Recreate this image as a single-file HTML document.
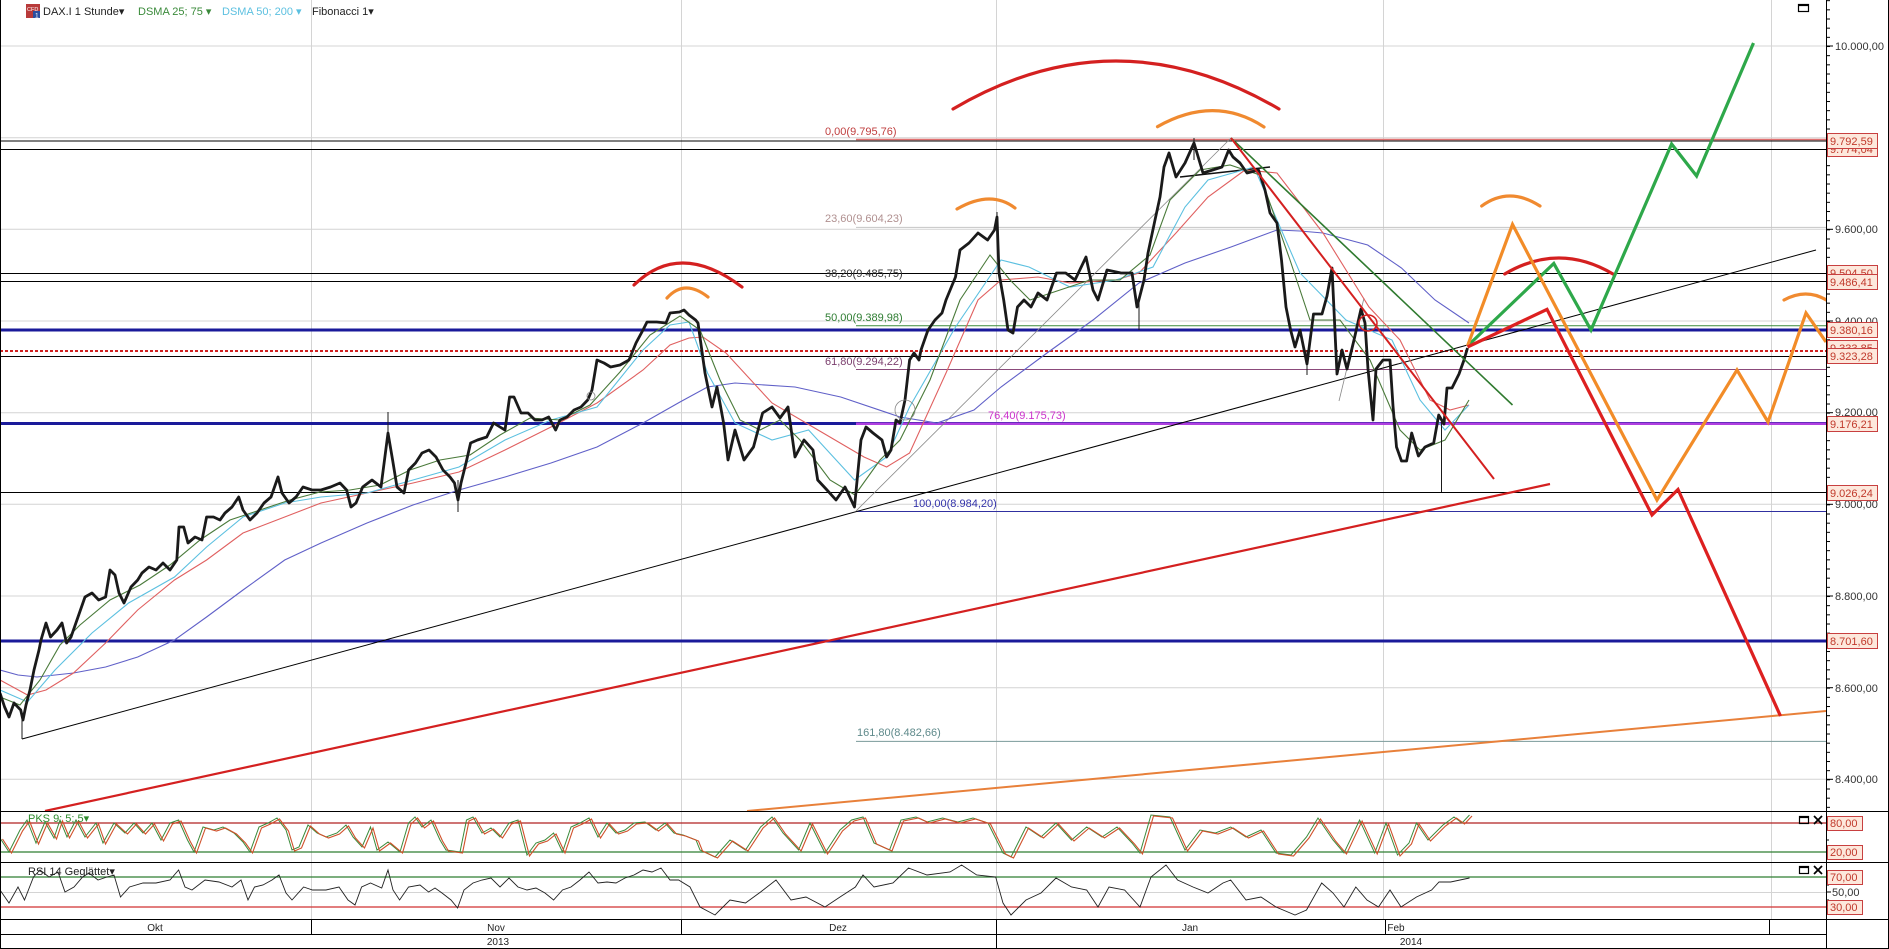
<!DOCTYPE html>
<html><head><meta charset="utf-8"><style>
html,body{margin:0;padding:0;background:#fff;}
svg{display:block;font-family:"Liberation Sans",Arial,sans-serif;}
</style></head><body>
<svg width="1889" height="949" viewBox="0 0 1889 949" xmlns="http://www.w3.org/2000/svg">
<defs>
<clipPath id="main"><rect x="0" y="0" width="1826" height="811"/></clipPath>
<clipPath id="pks"><rect x="0" y="812" width="1826" height="50"/></clipPath>
<clipPath id="rsi"><rect x="0" y="863" width="1826" height="56"/></clipPath>
<pattern id="tk" patternUnits="userSpaceOnUse" x="0" y="0.17" width="10" height="9.1667"><rect x="0" y="0" width="10" height="1" fill="#000"/></pattern>
<polyline id="pk" fill="none" points="0,838 9,852 20,830 27,820 36,843 45,822 54,838 60,820 67,837 76,820 85,837 96,823 103,843 114,823 125,833 134,823 143,833 152,823 161,840 170,823 178.6,820 187.5,840 194,852 203,827 214,830 223,827 234,833 243,842 250,852 259,827 268,823 277,818 286,830 292,850 299,847 308,825 317,833 326,837 337,833 346,825 353,837 362,847 370.5,827 377,850 388,842 400,852 408.5,823 415,817 422,827 431,820 440,840 446,850 460,852 466.5,820 473,817 482,833 491,828 500,837 509,823 518,820 527,855 536,843 545,840 553.6,833 562.5,852 571,827 580,823 589,818 598,837 607,823 616,833 625,830 634,823 645,822 656,830 665,823 674,833 683,835 696,840 700,850 715,857 730,840 745.5,850 760.6,827 772,817 783,833 798.6,850 810,823 825,853 840,830 851.6,820 863,817 874,843 889.5,850 901,820 916,817 927,822 942.6,818 957.8,822 973,818 988,823 1003,853 1011,857 1026,827 1041,837 1056,823 1071.5,840 1086.7,827 1102,837 1117,827 1132,843 1140,853 1151,815 1170,817 1185,850 1200,830 1215.5,833 1230.7,827 1246,837 1261,830 1276,853 1291,855 1306.5,837 1318,818 1333,840 1344,853 1359.6,820 1374.7,853 1386,823 1397.5,855 1409,843 1416.5,823 1428,840 1443,825 1454,817 1462,823 1469.5,815"/>
</defs>
<rect width="1889" height="949" fill="#fff"/>

<!-- grid -->
<g stroke="#d4d4d4" stroke-width="1">
<line x1="311.5" y1="0" x2="311.5" y2="919"/>
<line x1="681.5" y1="0" x2="681.5" y2="919"/>
<line x1="996.5" y1="0" x2="996.5" y2="919"/>
<line x1="1383.5" y1="0" x2="1383.5" y2="919"/>
<line x1="1771.5" y1="0" x2="1771.5" y2="919"/>
<line x1="0" y1="46" x2="1826" y2="46"/>
<line x1="0" y1="137.7" x2="1826" y2="137.7"/>
<line x1="0" y1="229.3" x2="1826" y2="229.3"/>
<line x1="0" y1="321" x2="1826" y2="321"/>
<line x1="0" y1="412.7" x2="1826" y2="412.7"/>
<line x1="0" y1="504.3" x2="1826" y2="504.3"/>
<line x1="0" y1="596" x2="1826" y2="596"/>
<line x1="0" y1="687.7" x2="1826" y2="687.7"/>
<line x1="0" y1="779.3" x2="1826" y2="779.3"/>
<line x1="0" y1="892.5" x2="1826" y2="892.5"/>
</g>

<g clip-path="url(#main)">
<g stroke-width="1" fill="none">
<line x1="0" y1="141" x2="1826" y2="141" stroke="#000"/>
<line x1="856" y1="139.5" x2="1826" y2="139.5" stroke="#e07070" stroke-width="1.5"/>
<line x1="0" y1="149.5" x2="1826" y2="149.5" stroke="#000"/>
<line x1="856" y1="227.4" x2="1826" y2="227.4" stroke="#c4c4c4"/>
<line x1="0" y1="273.5" x2="1826" y2="273.5" stroke="#000"/>
<line x1="0" y1="281.5" x2="1826" y2="281.5" stroke="#000"/>
<line x1="856" y1="325.7" x2="1826" y2="325.7" stroke="#3a8a3a"/>
<line x1="0" y1="330" x2="1826" y2="330" stroke="#1a1a9a" stroke-width="3"/>
<line x1="0" y1="351" x2="1826" y2="351" stroke="#d02020" stroke-width="2" stroke-dasharray="3,2"/>
<line x1="0" y1="356.5" x2="1826" y2="356.5" stroke="#000"/>
<line x1="856" y1="369.5" x2="1826" y2="369.5" stroke="#8b4a7b"/>
<line x1="0" y1="423.5" x2="1826" y2="423.5" stroke="#1a1a9a" stroke-width="3"/>
<line x1="856" y1="423.8" x2="1826" y2="423.8" stroke="#b040e0" stroke-width="2.5"/>
<line x1="0" y1="492.5" x2="1826" y2="492.5" stroke="#000"/>
<line x1="856" y1="511.5" x2="1826" y2="511.5" stroke="#3030a0"/>
<line x1="0" y1="641" x2="1826" y2="641" stroke="#1a1a9a" stroke-width="3"/>
<line x1="856" y1="741.4" x2="1826" y2="741.4" stroke="#7a9a9a"/>
</g>

<g font-size="11">
<text x="825" y="135" fill="#c04040">0,00(9.795,76)</text>
<text x="825" y="222" fill="#b09090">23,60(9.604,23)</text>
<text x="825" y="277" fill="#333">38,20(9.485,75)</text>
<text x="825" y="321" fill="#2e7d32">50,00(9.389,98)</text>
<text x="825" y="365" fill="#7b3f6e">61,80(9.294,22)</text>
<text x="988" y="419" fill="#cc33cc">76,40(9.175,73)</text>
<text x="913" y="507" fill="#3333aa">100,00(8.984,20)</text>
<text x="857" y="736" fill="#5f8a8b">161,80(8.482,66)</text>
</g>

<line x1="22" y1="739" x2="1816" y2="250" stroke="#000" stroke-width="1"/>
<line x1="45" y1="811" x2="1550" y2="484" stroke="#d42020" stroke-width="2.2"/>
<line x1="747" y1="811" x2="1826" y2="711" stroke="#e8803a" stroke-width="2"/>
<line x1="856" y1="511" x2="1231" y2="138" stroke="#888" stroke-width="0.8"/>
<line x1="1339" y1="401" x2="1364" y2="298" stroke="#888" stroke-width="0.8"/>
<line x1="1180" y1="177" x2="1270" y2="167" stroke="#111" stroke-width="1.6"/>

<g fill="none" stroke-width="1.1">
<polyline stroke="#6060c8" points="0,670 18,675 37,677 73.5,673 105.6,667 137.7,657 174.5,640 206.6,617 243,590 284.7,560 321,543 367,523 413,505 459,490 505,477 551,463 597,447 643,423 680,402 707.5,387 735,383 795,387 840.7,397 900,417 937,423 974,410 1001,387 1047,353 1093,320 1139,283 1185,263 1231,247 1277,230 1300,231 1323,233 1367.7,245 1401.5,268 1435,300 1469,323"/>
<polyline stroke="#e06060" points="0,680 27.5,695 46,690 73.5,673 105.6,643 137.7,610 174.5,580 206.6,560 243,533 284.7,517 321,503 367,493 413,483 459,472 505,450 551,427 597,403 643,370 670,345 689,338 703,337 726,353 772,403 818,430 864,457 886.6,467 909.6,453 946,373 978,300 1001,280 1038,277 1070,283 1116,280 1139,273 1176,233 1208,197 1245,170 1277,173 1323,233 1369,307 1400,340 1430,400 1450,410 1469,405"/>
<polyline stroke="#5cc0e0" points="0,690 27.5,702 55,670 92,633 128.6,603 174.5,577 206.6,547 243,517 284.7,503 321,497 367,493 413,480 459,467 505,440 551,420 597,407 643,350 670,325 689,322 707.5,373 735,423 772,440 808.6,430 854.5,480 886.6,457 909.6,407 955.5,327 1001,260 1029,267 1070,287 1116,280 1153,267 1185,207 1208,180 1254,167 1300,273 1346,320 1392,340 1420,400 1445,430 1469,405"/>
<polyline stroke="#4a7a3a" points="0,697 20,705 40,680 60,645 80,625 110,600 140,585 170,565 200,540 230,520 260,510 290,500 320,492 350,490 380,485 410,470 440,460 470,455 500,435 530,418 560,420 590,405 620,372 650,335 680,316 700,330 720,380 740,420 760,430 780,420 800,440 830,480 855,495 880,460 900,440 930,380 960,300 990,255 1010,280 1030,300 1060,290 1090,280 1120,280 1150,255 1170,200 1200,170 1230,165 1260,175 1290,260 1310,320 1340,320 1370,360 1400,430 1420,450 1445,440 1469,400"/>
</g>

<g stroke="#1a1a1a" stroke-width="1">
<line x1="22" y1="715" x2="22" y2="739"/>
<line x1="388" y1="412" x2="388" y2="440"/>
<line x1="458" y1="480" x2="458" y2="512"/>
<line x1="1139" y1="300" x2="1139" y2="330"/>
<line x1="1307" y1="350" x2="1307" y2="375"/>
<line x1="1441.5" y1="420" x2="1441.5" y2="492"/>
<line x1="1194" y1="138" x2="1194" y2="160"/>
<line x1="997" y1="212" x2="997" y2="240"/>
</g>
<polyline fill="none" stroke="#1a1a1a" stroke-width="2.8" stroke-linejoin="round" points="0,693 4.6,707 9,717 14,703 20.7,710 23,720 26,705 30,690 34,670 39,650 41,640 46,623 50.5,637 57,630 62,623 66.6,643 71,637 78,617 85,597 92,593 98.7,600 105.6,597 110,570 115,575 119,593 124,603 131,587 137.7,580 142,573 149,567 156,570 163,563 170,570 176.8,560 179,527 183.7,527 188,543 195,537 202,540 206.6,517 213.5,517 220,520 225,513 232,507 238.7,497 243,510 250,520 257,513 264,503 271,497 278,477 282,493 289,503 296,497 303,487 312,490 321,490 330.6,487 340,483 346.6,490 351,507 356,503 362.7,487 372,480 381,487 388,433 392.6,460 397,487 404,493 408.6,470 415.5,463 422,453 429,450 436,457 443,470 450,477 454.5,483 458,500 461,483 466,463 470.6,443 477.5,440 486.7,437 493.6,423 500,427 505,430 509.6,397 514,397 521,413 528,413 535,420 542,420 548.7,417 555.6,430 560,420 567,417 574,410 581,407 587.7,400 592,390 597,360 604,363 610.6,367 620,365 629,360 636,343 643,330 647,322 656.6,322 666,323 670,313 679.5,312 684,310 689,315 695.6,320 698,323 705,373 712,407 717,387 723.6,423 728,460 735,430 744,460 753.5,447 762.6,413 772,407 780,418 788,407 795,457 804,440 813,450 817.7,480 827,490 836,500 845,487 854.5,507 861,440 866,427 873,433 882,440 886.6,457 891,450 896,420 900,423 905,400 909.6,360 914,353 919,360 921,350 928,330 935,320 942,313 946,300 955.5,277 960,250 969,243 978,233 987.6,240 994.5,230 997,217 999,273 1003.7,300 1008,330 1013,333 1017.5,307 1024,300 1031,307 1038,293 1047,300 1056.5,273 1065.7,273 1075,280 1086,257 1093,290 1098,300 1107,270 1121,273 1132,273 1137,307 1144,280 1148,253 1155,220 1160,197 1164,167 1169,153 1176,177 1185,163 1194,143 1203,173 1212.6,170 1222,167 1228.7,150 1233,157 1240,163 1247,173 1258.5,170 1265,190 1270,213 1277,223 1281.5,260 1286,307 1290.6,330 1295,347 1300,330 1307,364 1313.5,314 1322,314 1327,296 1332,268 1337,374 1342,350 1347,369 1354,340 1361,309 1365,323 1368,369 1373,420 1376,369 1383,360 1390,360 1393,406 1396.5,447 1401.5,461 1406.6,461 1411.7,433 1418.4,456 1425,447 1433.7,443 1438.7,415 1444,424 1447,388 1452,388 1459,374 1464,360 1467.5,348"/>

<circle cx="591" cy="396" r="4" fill="none" stroke="#888" stroke-width="0.8"/>
<circle cx="905" cy="410" r="10" fill="none" stroke="#888" stroke-width="0.8"/>
<ellipse cx="1368" cy="323" rx="9" ry="8" fill="none" stroke="#d42020" stroke-width="1.5"/>

<line x1="1231" y1="138" x2="1512.5" y2="405" stroke="#2f7a2f" stroke-width="1.6"/>
<line x1="1231" y1="138" x2="1494" y2="479" stroke="#d42020" stroke-width="2"/>

<g fill="none" stroke-width="3.2" stroke-linecap="round">
<path d="M634,285 Q680,240 742,287" stroke="#d42020"/>
<path d="M667,298 Q684.5,278.5 708,297" stroke="#f08a30"/>
<path d="M957,209 Q991,189.5 1015,208" stroke="#f08a30"/>
<path d="M953,109 Q1116,13 1279,109" stroke="#d42020"/>
<path d="M1157.5,126.7 Q1214.5,94.5 1264,127" stroke="#f08a30"/>
<path d="M1481.7,206 Q1509,186 1540,206" stroke="#f08a30"/>
<path d="M1504.7,274 Q1559,242 1613,274" stroke="#d42020"/>
<path d="M1784,300 Q1807,287.5 1828,301" stroke="#f08a30"/>
</g>

<g fill="none" stroke-width="3.2" stroke-linejoin="miter">
<polyline stroke="#2ea84a" points="1467.5,346 1553.8,263.5 1591,330 1671.6,144 1696.6,176 1753.5,43"/>
<polyline stroke="#f28c28" points="1467.5,346 1512.5,224.4 1657,500 1737,370 1768,422 1806,313 1826,342"/>
<polyline stroke="#dd2020" points="1467.5,347 1547,309.4 1652,515 1678,489.5 1780.5,716"/>
</g>
</g>

<!-- PKS -->
<g clip-path="url(#pks)">
<line x1="0" y1="823" x2="1826" y2="823" stroke="#b02020" stroke-width="1.2"/>
<line x1="0" y1="852" x2="1826" y2="852" stroke="#2e7d32" stroke-width="1.2"/>
<use href="#pk" stroke="#3a8a3a" stroke-width="1"/>
<use href="#pk" transform="translate(2.5,1)" stroke="#d0502a" stroke-width="1.1"/>
<text x="28" y="822" font-size="11" fill="#2e8b2e">PKS 9; 5; 5▾</text>
</g>

<!-- RSI -->
<g clip-path="url(#rsi)">
<line x1="0" y1="877" x2="1826" y2="877" stroke="#2e7d32" stroke-width="1.2"/>
<line x1="0" y1="907" x2="1826" y2="907" stroke="#d03030" stroke-width="1.2"/>
<polyline fill="none" stroke="#222" stroke-width="0.9" points="0,890 9,903 18,887 24.5,900 33.5,877 40,870 49,877 58,872 65,892 74,887 82.6,877 89,873 98,880 107,877 114,875 120.5,897 129.5,887 143,883 156,883 170,880 178.6,870 185,887 192,890 205,880 219,882 232,887 241,880 248,900 254.5,887 263,885 272,880 279,875 286,893 292,900 303.6,887 312.5,890 326,890 339,887 348,900 355,905 361.6,887 370.5,883 381.7,888 388,870 393,890 399.6,900 408.5,887 420,885 428.6,892 435,888 442,893 451,900 457.6,908 464,890 473,883 482,880 491,878 500,887 509,878 518,887 527,890 536,888 545,893 553.6,900 562.5,890 571,887 580,880 589,872 598,883 607,882 616,883 625,878 634,875 643,870 652,872 661,868 670,880 678.6,880 690,887 700,907 715,915 730,900 745.5,903 760.6,892 776,880 791,900 806,897 825,907 840,897 855.4,887 863,875 874,887 893,883 908.5,868 927,875 950,872 961.6,865 976.7,875 995.7,877 1003,903 1011,915 1026,900 1041,893 1056,878 1071.5,887 1086.7,890 1098,907 1109,887 1124.6,890 1140,907 1151,877 1166,865 1177.6,880 1193,887 1208,893 1223,883 1230.7,880 1246,900 1261,897 1276,907 1295,915 1306.5,910 1321.7,883 1333,893 1344,907 1355.8,887 1367,900 1378.5,907 1390,890 1401,907 1416.5,897 1431.6,890 1439,882 1450.6,882 1469.5,878"/>
<text x="28" y="875" font-size="11" fill="#222">RSI 14 Geglättet▾</text>
</g>

<g stroke="#000" stroke-width="1">
<line x1="0.5" y1="0" x2="0.5" y2="949"/>
<line x1="1888.5" y1="0" x2="1888.5" y2="949"/>
<line x1="1826.5" y1="0" x2="1826.5" y2="949"/>
<line x1="0" y1="811.5" x2="1889" y2="811.5"/>
<line x1="0" y1="862.5" x2="1889" y2="862.5"/>
<line x1="0" y1="919.5" x2="1889" y2="919.5"/>
<line x1="0" y1="934.5" x2="1826" y2="934.5"/>
<line x1="0" y1="948.5" x2="1889" y2="948.5"/>
<line x1="311.5" y1="919" x2="311.5" y2="934"/>
<line x1="681.5" y1="919" x2="681.5" y2="934"/>
<line x1="996.5" y1="919" x2="996.5" y2="948"/>
<line x1="1385.5" y1="919" x2="1385.5" y2="934"/>
<line x1="1769.5" y1="919" x2="1769.5" y2="934"/>
</g>

<rect x="1827" y="0" width="3" height="811" fill="url(#tk)"/>
<g stroke="#000" stroke-width="1">
<line x1="1826" y1="46" x2="1833" y2="46"/>
<line x1="1826" y1="229.3" x2="1833" y2="229.3"/>
<line x1="1826" y1="321" x2="1833" y2="321"/>
<line x1="1826" y1="412.7" x2="1833" y2="412.7"/>
<line x1="1826" y1="504.3" x2="1833" y2="504.3"/>
<line x1="1826" y1="596" x2="1833" y2="596"/>
<line x1="1826" y1="687.7" x2="1833" y2="687.7"/>
<line x1="1826" y1="779.3" x2="1833" y2="779.3"/>
<line x1="1826" y1="817" x2="1829" y2="817"/>
<line x1="1826" y1="829" x2="1829" y2="829"/>
<line x1="1826" y1="840" x2="1829" y2="840"/>
<line x1="1826" y1="846" x2="1829" y2="846"/>
<line x1="1826" y1="858" x2="1829" y2="858"/>
<line x1="1826" y1="885" x2="1829" y2="885"/>
<line x1="1826" y1="892" x2="1831" y2="892"/>
<line x1="1826" y1="900" x2="1829" y2="900"/>
<line x1="1826" y1="914" x2="1829" y2="914"/>
</g>

<g font-size="11" fill="#333">
<text x="1835" y="50">10.000,00</text>
<text x="1835" y="233">9.600,00</text>
<text x="1835" y="325">9.400,00</text>
<text x="1835" y="416">9.200,00</text>
<text x="1835" y="508">9.000,00</text>
<text x="1835" y="600">8.800,00</text>
<text x="1835" y="692">8.600,00</text>
<text x="1835" y="783">8.400,00</text>
<text x="1832" y="896">50,00</text>
</g>

<g font-size="11" fill="#c0392b">
<rect x="1827.5" y="141.5" width="50" height="15" fill="#fde8dc" stroke="#c84040"/><text x="1830" y="153">9.774,04</text>
<rect x="1827.5" y="133.5" width="50" height="15" fill="#fde8dc" stroke="#c84040"/><text x="1830" y="145">9.792,59</text>
<rect x="1827.5" y="265.5" width="50" height="15" fill="#fde8dc" stroke="#c84040"/><text x="1830" y="277">9.504,50</text>
<rect x="1827.5" y="274.5" width="50" height="15" fill="#fde8dc" stroke="#c84040"/><text x="1830" y="286">9.486,41</text>
<rect x="1827.5" y="322.5" width="50" height="15" fill="#fde8dc" stroke="#c84040"/><text x="1830" y="334">9.380,16</text>
<rect x="1827.5" y="340.5" width="50" height="15" fill="#fde8dc" stroke="#c84040"/><text x="1830" y="352">9.333,85</text>
<rect x="1827.5" y="348.5" width="50" height="15" fill="#fde8dc" stroke="#c84040"/><text x="1830" y="360">9.323,28</text>
<rect x="1827.5" y="416.5" width="50" height="15" fill="#fde8dc" stroke="#c84040"/><text x="1830" y="428">9.176,21</text>
<rect x="1827.5" y="485.5" width="50" height="15" fill="#fde8dc" stroke="#c84040"/><text x="1830" y="497">9.026,24</text>
<rect x="1827.5" y="633.5" width="50" height="15" fill="#fde8dc" stroke="#c84040"/><text x="1830" y="645">8.701,60</text>
<rect x="1827.5" y="816.5" width="35" height="14" fill="#fde8dc" stroke="#c84040"/><text x="1830" y="827">80,00</text>
<rect x="1827.5" y="845.5" width="35" height="14" fill="#fde8dc" stroke="#c84040"/><text x="1830" y="856">20,00</text>
<rect x="1827.5" y="870.5" width="35" height="14" fill="#fde8dc" stroke="#c84040"/><text x="1830" y="881">70,00</text>
<rect x="1827.5" y="900.5" width="35" height="14" fill="#fde8dc" stroke="#c84040"/><text x="1830" y="911">30,00</text>
</g>

<g fill="none" stroke="#000" stroke-width="1.2">
<rect x="1798.5" y="4.5" width="10" height="7"/><line x1="1798.5" y1="5.5" x2="1808.5" y2="5.5"/>
<rect x="1799.5" y="816.5" width="9" height="7"/><line x1="1799.5" y1="817.5" x2="1808.5" y2="817.5"/>
<rect x="1799.5" y="866.5" width="9" height="7"/><line x1="1799.5" y1="867.5" x2="1808.5" y2="867.5"/>
</g>
<g stroke="#000" stroke-width="1.8">
<line x1="1814" y1="816" x2="1822" y2="824"/><line x1="1822" y1="816" x2="1814" y2="824"/>
<line x1="1814" y1="866" x2="1822" y2="874"/><line x1="1822" y1="866" x2="1814" y2="874"/>
</g>

<g font-size="10" fill="#222" text-anchor="middle">
<text x="155" y="931">Okt</text>
<text x="496" y="931">Nov</text>
<text x="838" y="931">Dez</text>
<text x="1190" y="931">Jan</text>
<text x="1396" y="931">Feb</text>
<text x="498" y="945">2013</text>
<text x="1411" y="945">2014</text>
</g>

<rect x="26" y="4" width="14" height="14" fill="#b83a3a"/>
<text x="27" y="11" font-size="5.5" fill="#fff">CFD</text>
<rect x="33" y="11" width="7" height="7" fill="#2b4fa0"/>
<text x="35" y="17.5" font-size="6.5" fill="#fff">1</text>
<g font-size="11">
<text x="43" y="15" fill="#222">DAX.I 1 Stunde▾</text>
<text x="138" y="15" fill="#3a8a3a">DSMA 25; 75 ▾</text>
<text x="222" y="15" fill="#5cc0e0">DSMA 50; 200 ▾</text>
<text x="312" y="15" fill="#222">Fibonacci 1▾</text>
</g>
</svg>
</body></html>
